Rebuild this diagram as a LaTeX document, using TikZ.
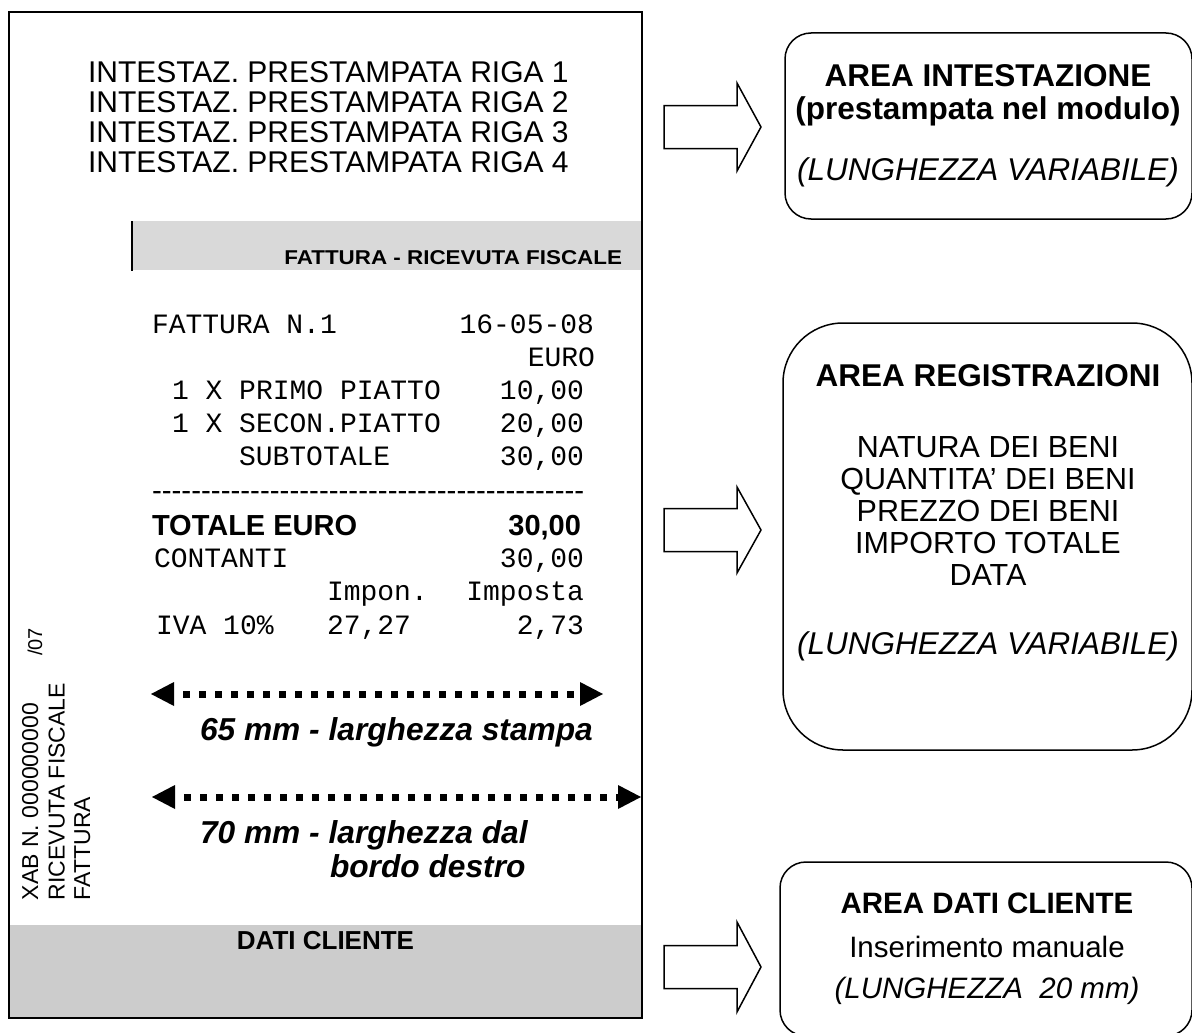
\documentclass[tikz,border=0pt]{standalone}
\usepackage{fontspec}
\setmainfont{Liberation Sans}
\newfontfamily\monofont{Liberation Mono}
\usetikzlibrary{arrows.meta}
\newcommand{\fsz}[1]{\fontsize{#1pt}{#1pt}\selectfont}
\newcommand{\dashrow}[1]{\foreach \i in {1,...,#1}{-\kern0pt}}
\definecolor{barA}{HTML}{D9D9D9}
\definecolor{barB}{HTML}{CCCCCC}
\begin{document}
\begin{tikzpicture}[x=1pt, y=-1pt,
 txt/.style={inner sep=0pt, outer sep=0pt},
 hdr/.style={txt, font=\fsz{30}, anchor=base west},
 mono/.style={txt, font=\monofont\fsz{28}},
 ml/.style={mono, anchor=base west},
 mr/.style={mono, anchor=base east},
 dimline/.style={line width=7pt, dash pattern=on 7pt off 9pt, dash phase=7pt,
   {Triangle[length=23pt,width=24pt,line width=0pt]}-{Triangle[length=23pt,width=24pt,line width=0pt]}},
 dimlabel/.style={txt, font=\bfseries\itshape\fsz{31.7}, anchor=base west},
 blockarrow/.style={draw, line width=1.5pt, line join=miter},
 areabox/.style={draw, line width=1.5pt},
 btitle/.style={txt, font=\bfseries\fsz{31.5}, anchor=base},
 btext/.style={txt, font=\fsz{30.5}, anchor=base},
 bital/.style={txt, font=\itshape\fsz{31.5}, anchor=base},
 stitle/.style={txt, font=\bfseries\fsz{29.5}, anchor=base},
 stext/.style={txt, font=\fsz{29.5}, anchor=base},
 sital/.style={txt, font=\itshape\fsz{29.5}, anchor=base},
 vert/.style={txt, font=\fsz{23}, rotate=90, anchor=base west}]
\useasboundingbox (0,0) rectangle (1192,1033);
\clip (0,0) rectangle (1192,1033);

% ---------------- receipt ----------------
\fill[barA] (132,221) rectangle (641,270);
\fill[barB] (9,925) rectangle (642,1018);
\draw[line width=2pt] (132,221) -- (132,271);

\node[hdr] (h1) at (88,82.5)  {INTESTAZ. PRESTAMPATA RIGA 1};
\node[hdr] (h2) at (88,112.5) {INTESTAZ. PRESTAMPATA RIGA 2};
\node[hdr] (h3) at (88,142.5) {INTESTAZ. PRESTAMPATA RIGA 3};
\node[hdr] (h4) at (88,172.5) {INTESTAZ. PRESTAMPATA RIGA 4};

\node[txt, anchor=base east, font=\bfseries\fsz{20}] (bartxt) at (622,264.5)
  {\scalebox{1.12}[1]{FATTURA - RICEVUTA FISCALE}};

\node[ml] (r1a) at (152,333) {FATTURA N.1};
\node[mr] (r1b) at (594,333) {16-05-08};
\node[mr] (r2b) at (595,366) {EURO};
\node[ml] (r3a) at (172,399) {1 X PRIMO PIATTO};
\node[mr] (r3b) at (584,399) {10,00};
\node[ml] (r4a) at (172,432) {1 X SECON.PIATTO};
\node[mr] (r4b) at (584,432) {20,00};
\node[ml] (r5a) at (239,465) {SUBTOTALE};
\node[mr] (r5b) at (584,465) {30,00};
\node[txt, anchor=base west, font=\fsz{29.5}] (dashes) at (152,500.5) {\dashrow{44}};
\node[txt, anchor=base west, font=\bfseries\fsz{29}] (tot) at (152,535) {TOTALE EURO};
\node[txt, anchor=base east, font=\bfseries\fsz{29}] (totv) at (581,535) {30,00};
\node[ml] (r7a) at (154,567) {CONTANTI};
\node[mr] (r7b) at (584,567) {30,00};
\node[ml] (r8a) at (327,600) {Impon.};
\node[mr] (r8b) at (584,600) {Imposta};
\node[ml] (r9a) at (156,634) {IVA 10\%};
\node[ml] (r9b) at (327,634) {27,27};
\node[mr] (r9c) at (584,634) {2,73};

\coordinate (d1a) at (151,694);
\coordinate (d1b) at (603,694);
\draw[dimline] (d1a) -- (d1b);
\node[dimlabel] (l1) at (200,740) {65 mm - larghezza stampa};

\coordinate (d2a) at (152,797);
\coordinate (d2b) at (641,797);
\draw[dimline] (d2a) -- (d2b);
\node[dimlabel] (l2) at (200,843) {70 mm - larghezza dal};
\node[dimlabel] (l3) at (330,877) {bordo destro};

\node[vert] (v1) at (38,900) {XAB N. 000000000};
\node[vert] (v2) at (64.5,900) {RICEVUTA FISCALE};
\node[vert] (v3) at (90,900) {FATTURA};
\node[txt, font=\fsz{20}, rotate=90, anchor=base] (v4) at (42,642) {/07};

\node[txt, anchor=base, font=\bfseries\fsz{26}] (dati) at (325.5,949) {DATI CLIENTE};

\draw[line width=2pt] (9,12) rectangle (642,1018);

% ---------------- block arrows ----------------
\draw[blockarrow] (664,105.5) -- (737,105.5) -- (737,83) -- (761,127) -- (737,171) -- (737,148.5) -- (664,148.5) -- cycle;
\draw[blockarrow] (664,508.5) -- (737,508.5) -- (737,487) -- (761,530) -- (737,573) -- (737,551.5) -- (664,551.5) -- cycle;
\draw[blockarrow] (664,945.5) -- (737,945.5) -- (737,922) -- (761,967) -- (737,1012) -- (737,988.5) -- (664,988.5) -- cycle;

% ---------------- area boxes ----------------
\draw[areabox, rounded corners=26pt] (785,33) rectangle (1192,219);
\node[btitle] (b1t) at (988,86) {AREA INTESTAZIONE};
\node[btitle] (b1s) at (988,119.5) {(prestampata nel modulo)};
\node[bital] (b1i) at (988,180) {(LUNGHEZZA VARIABILE)};

\draw[areabox, rounded corners=60pt] (783,323) rectangle (1192,750);
\node[btitle] (b2t) at (988,386) {AREA REGISTRAZIONI};
\node[btext] (b2a) at (988,457) {NATURA DEI BENI};
\node[btext] (b2b) at (988,489) {QUANTITA’ DEI BENI};
\node[btext] (b2c) at (988,521) {PREZZO DEI BENI};
\node[btext] (b2d) at (988,553) {IMPORTO TOTALE};
\node[btext] (b2e) at (988,585) {DATA};
\node[bital] (b2i) at (988,654) {(LUNGHEZZA VARIABILE)};

\draw[areabox, rounded corners=26pt] (780,862) rectangle (1192,1036);
\node[stitle] (b3t) at (987,913) {AREA DATI CLIENTE};
\node[stext] (b3a) at (987,957) {Inserimento manuale};
\node[sital] (b3i) at (987,998) {(LUNGHEZZA\ \ 20 mm)};
\end{tikzpicture}
\end{document}
